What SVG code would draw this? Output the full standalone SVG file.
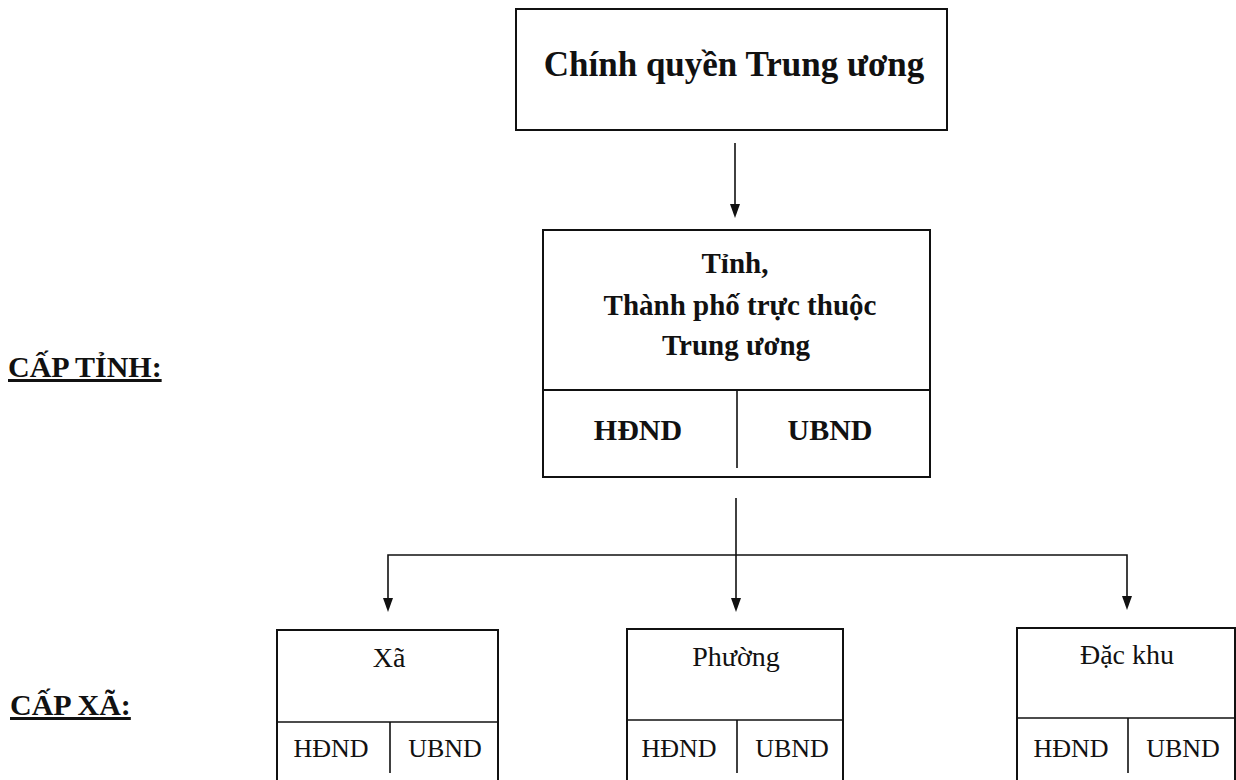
<svg xmlns="http://www.w3.org/2000/svg" width="1236" height="780" viewBox="0 0 1236 780">
<style>
.box{fill:none;stroke:#111;stroke-width:2}
.ln{stroke:#111;stroke-width:1.6;fill:none}
.b{font-family:"Liberation Serif","Times New Roman",serif;font-weight:bold;fill:#111;text-anchor:middle}
.r{font-family:"Liberation Serif","Times New Roman",serif;fill:#111;text-anchor:middle}
.lbl{font-family:"Liberation Serif","Times New Roman",serif;font-weight:bold;fill:#111;font-size:30px;text-decoration:underline}
</style>
<defs>
<marker id="ah" viewBox="0 0 10 14" refX="5" refY="14" markerWidth="10" markerHeight="14" markerUnits="userSpaceOnUse" orient="auto-start-reverse">
<path d="M0,0 L10,0 L5,14 Z" fill="#111"/>
</marker>
</defs>
<rect width="1236" height="780" fill="#fff"/>

<g id="labels">
<text class="lbl" x="8" y="377">CẤP TỈNH:</text>
<text class="lbl" x="10" y="715">CẤP XÃ:</text>
</g>

<g id="connectors">
<line class="ln" x1="735" y1="143" x2="735" y2="204"/>
<path d="M730,204 L740,204 L735,218 Z" fill="#111"/>
<line class="ln" x1="736" y1="498" x2="736" y2="598"/>
<path d="M731,598 L741,598 L736,612 Z" fill="#111"/>
<polyline class="ln" points="388,598 388,555 1127,555 1127,596"/>
<path d="M383,598 L393,598 L388,612 Z" fill="#111"/>
<path d="M1122,596 L1132,596 L1127,610 Z" fill="#111"/>
</g>

<g id="node-trung-uong">
<rect class="box" x="516" y="9" width="431" height="121"/>
<text class="b" x="734" y="76" font-size="35">Chính quyền Trung ương</text>
</g>

<g id="node-tinh">
<rect class="box" x="543" y="230" width="387" height="247"/>
<line class="box" x1="543" y1="390" x2="930" y2="390"/>
<line class="ln" x1="737" y1="390" x2="737" y2="468"/>
<text class="b" x="735" y="273" font-size="29">Tỉnh,</text>
<text class="b" x="740" y="315" font-size="29">Thành phố trực thuộc</text>
<text class="b" x="736" y="355" font-size="29">Trung ương</text>
<text class="b" x="638" y="440" font-size="30">HĐND</text>
<text class="b" x="830" y="440" font-size="30">UBND</text>
</g>

<g id="node-xa">
<rect class="box" x="277" y="630" width="221" height="170"/>
<line class="ln" x1="277" y1="722" x2="498" y2="722"/>
<line class="ln" x1="390" y1="722" x2="390" y2="773"/>
<text class="r" x="389" y="667" font-size="28">Xã</text>
<text class="r" x="331" y="757" font-size="26">HĐND</text>
<text class="r" x="445" y="757" font-size="26">UBND</text>
</g>

<g id="node-phuong">
<rect class="box" x="627" y="629" width="216" height="170"/>
<line class="ln" x1="627" y1="720" x2="843" y2="720"/>
<line class="ln" x1="737" y1="720" x2="737" y2="773"/>
<text class="r" x="736" y="666" font-size="28">Phường</text>
<text class="r" x="679" y="757" font-size="26">HĐND</text>
<text class="r" x="792" y="757" font-size="26">UBND</text>
</g>

<g id="node-dac-khu">
<rect class="box" x="1017" y="628" width="218" height="170"/>
<line class="ln" x1="1017" y1="718" x2="1235" y2="718"/>
<line class="ln" x1="1128" y1="718" x2="1128" y2="773"/>
<text class="r" x="1127" y="664" font-size="28">Đặc khu</text>
<text class="r" x="1071" y="757" font-size="26">HĐND</text>
<text class="r" x="1183" y="757" font-size="26">UBND</text>
</g>
</svg>
